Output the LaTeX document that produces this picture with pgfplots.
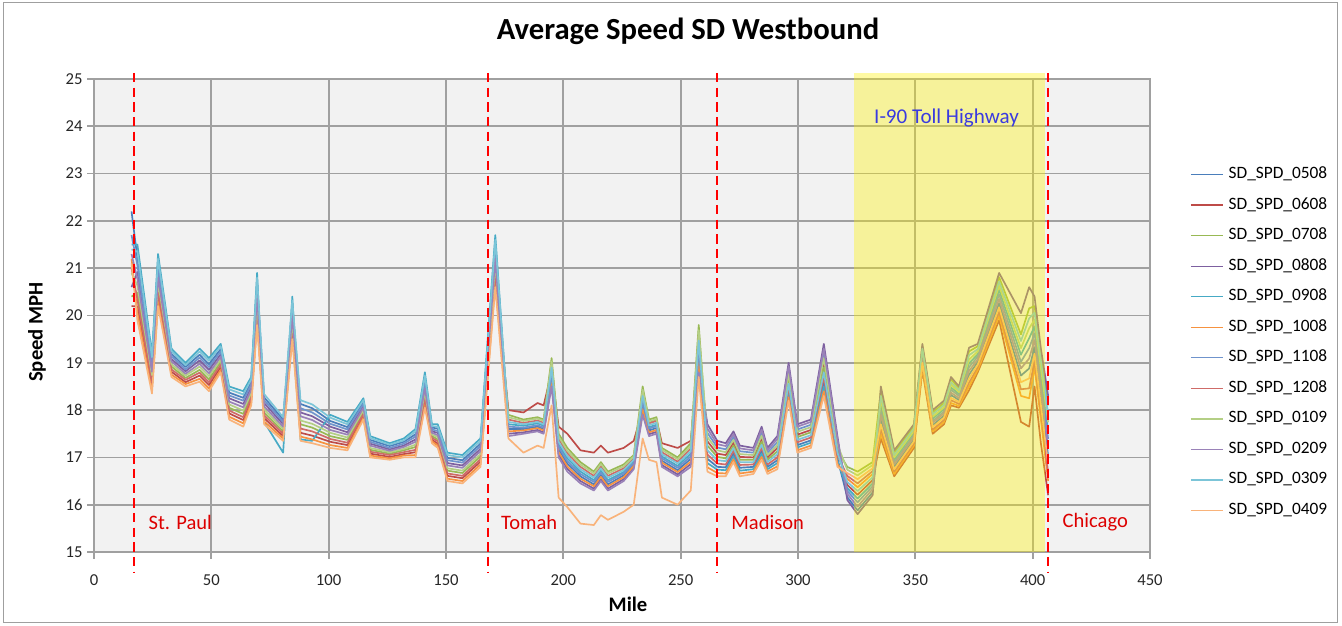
\documentclass[border=0pt]{standalone}
\usepackage{fontspec}
\setmainfont{Carlito}
\usepackage{pgfplots}
\pgfplotsset{compat=1.18}
\usepackage{pgfplotstable}

\definecolor{c0508}{HTML}{4A7EBB}
\definecolor{c0608}{HTML}{BE4B48}
\definecolor{c0708}{HTML}{98B954}
\definecolor{c0808}{HTML}{7D60A0}
\definecolor{c0908}{HTML}{46AAC5}
\definecolor{c1008}{HTML}{F69240}
\definecolor{c1108}{HTML}{6F93CC}
\definecolor{c1208}{HTML}{CF6B68}
\definecolor{c0109}{HTML}{B4CF85}
\definecolor{c0209}{HTML}{9A82B8}
\definecolor{c0309}{HTML}{7CC5D8}
\definecolor{c0409}{HTML}{F9B37A}
\definecolor{gridgray}{HTML}{A0A0A0}
\definecolor{plotbg}{HTML}{F2F2F2}
\definecolor{cityred}{HTML}{DD0000}
\definecolor{tollblue}{HTML}{3A3AE0}

\pgfplotstableread{
x s0508 s0608 s0708 s0808 s0908 s1008 s1108 s1208 s0109 s0209 s0309 s0409
16.0 22.20 20.20 20.40 20.60 21.50 21.20 21.70 21.00 20.90 21.30 21.40 21.10
18.5 21.21 20.19 20.48 20.92 21.50 20.05 21.06 20.34 20.63 20.77 21.35 19.90
24.7 19.05 18.50 18.66 18.89 19.20 18.43 18.97 18.58 18.74 18.81 19.12 18.35
27.3 21.10 20.40 20.60 20.90 21.30 20.30 21.00 20.50 20.70 20.80 21.20 20.20
33.0 19.19 18.81 18.92 19.08 19.30 18.75 19.14 18.86 18.97 19.03 19.25 18.70
39.0 18.91 18.59 18.68 18.82 19.00 18.55 18.86 18.64 18.73 18.77 18.95 18.50
45.0 19.17 18.73 18.85 19.05 19.30 18.66 19.11 18.79 18.92 18.98 19.24 18.60
49.0 18.97 18.53 18.65 18.85 19.10 18.46 18.91 18.59 18.72 18.78 19.04 18.40
54.0 19.29 18.91 19.02 19.18 19.40 18.85 19.24 18.96 19.07 19.13 19.35 18.80
57.6 18.37 17.93 18.05 18.25 18.50 17.86 18.31 17.99 18.12 18.18 18.44 17.80
63.6 18.26 17.79 17.92 18.13 18.40 17.72 18.20 17.85 17.99 18.06 18.33 17.65
67.0 18.59 18.21 18.32 18.48 18.70 18.15 18.54 18.26 18.37 18.43 18.65 18.10
69.5 20.70 20.00 20.20 20.50 20.90 19.90 20.60 20.10 20.30 20.40 20.80 19.80
72.5 18.27 17.83 17.95 18.15 17.75 17.76 18.21 17.89 18.02 18.08 18.34 17.70
80.6 17.80 17.45 17.55 17.70 17.10 17.40 17.75 17.50 17.60 17.65 17.85 17.35
84.5 20.24 19.66 19.83 20.07 20.40 19.58 20.15 19.75 19.91 19.99 20.32 19.50
88.0 18.13 17.52 17.70 17.95 17.38 17.44 18.04 17.61 17.78 17.87 18.21 17.35
93.0 18.04 17.46 17.63 17.87 17.35 17.38 17.95 17.55 17.71 17.79 18.12 17.30
100.7 17.77 17.33 17.45 17.65 17.90 17.26 17.71 17.39 17.52 17.58 17.84 17.20
108.0 17.64 17.26 17.37 17.53 17.75 17.20 17.59 17.31 17.42 17.48 17.70 17.15
114.8 18.17 17.88 17.96 18.09 18.25 17.84 18.13 17.92 18.00 18.05 18.21 17.80
117.7 17.37 17.08 17.16 17.29 17.45 17.04 17.33 17.12 17.20 17.25 17.41 17.00
126.0 17.24 17.01 17.08 17.17 17.30 16.98 17.20 17.05 17.11 17.14 17.27 16.95
132.0 17.33 17.07 17.15 17.25 17.40 17.04 17.29 17.11 17.18 17.22 17.36 17.00
137.0 17.49 17.11 17.22 17.38 17.60 17.05 17.44 17.16 17.27 17.33 17.55 17.00
141.0 18.66 18.19 18.32 18.53 18.80 18.12 18.60 18.25 18.39 18.46 18.73 18.05
144.0 17.63 17.37 17.45 17.55 17.70 17.34 17.59 17.41 17.48 17.52 17.66 17.30
146.5 17.61 17.29 17.38 17.52 17.70 17.25 17.56 17.34 17.43 17.47 17.65 17.20
150.6 16.99 16.61 16.72 16.88 17.10 16.55 16.94 16.66 16.77 16.83 17.05 16.50
157.0 16.94 16.56 16.67 16.83 17.05 16.50 16.89 16.61 16.72 16.78 17.00 16.45
164.7 17.29 16.91 17.02 17.18 17.40 16.85 17.24 16.96 17.07 17.13 17.35 16.80
171.0 21.50 20.80 21.00 21.30 21.70 20.70 21.40 20.90 21.10 21.20 21.60 20.60
176.6 17.60 18.00 17.90 17.50 17.70 17.55 17.65 17.80 17.85 17.45 17.75 17.40
183.0 17.60 17.95 17.80 17.53 17.67 17.57 17.63 17.73 17.77 17.50 17.70 17.10
189.0 17.65 18.15 17.85 17.58 17.72 17.62 17.68 17.78 17.82 17.55 17.75 17.25
191.6 17.60 18.10 17.80 17.53 17.67 17.57 17.63 17.73 17.77 17.50 17.70 17.20
195.0 18.70 18.80 19.10 18.57 18.83 18.63 18.77 18.97 19.03 18.50 18.90 18.10
198.0 17.17 17.65 17.50 17.06 17.28 17.11 17.22 17.39 17.44 17.00 17.33 16.15
201.7 16.87 17.50 17.20 16.76 16.98 16.81 16.92 17.09 17.14 16.70 17.03 15.95
207.3 16.60 17.15 16.90 16.50 16.70 16.55 16.65 16.80 16.85 16.45 16.75 15.60
213.0 16.43 17.10 16.70 16.34 16.52 16.39 16.48 16.61 16.66 16.30 16.57 15.57
216.0 16.63 17.25 16.90 16.54 16.72 16.59 16.68 16.81 16.86 16.50 16.77 15.78
219.0 16.43 17.10 16.70 16.34 16.52 16.39 16.48 16.61 16.66 16.30 16.57 15.68
225.7 16.62 17.20 16.85 16.54 16.69 16.58 16.66 16.77 16.81 16.50 16.73 15.85
230.0 16.85 17.35 17.05 16.78 16.92 16.82 16.88 16.98 17.02 16.75 16.95 16.00
233.8 18.10 18.00 18.50 17.97 18.23 18.03 18.17 18.37 18.43 17.90 18.30 17.40
236.5 17.57 17.75 17.80 17.49 17.64 17.53 17.61 17.72 17.76 17.45 17.68 16.95
239.7 17.62 17.80 17.85 17.54 17.69 17.58 17.66 17.77 17.81 17.50 17.73 16.90
242.0 16.93 17.30 17.20 16.84 17.02 16.89 16.98 17.11 17.16 16.80 17.07 16.15
248.7 16.73 17.20 17.00 16.64 16.82 16.69 16.78 16.91 16.96 16.60 16.87 16.00
254.3 16.97 17.35 17.30 16.86 17.08 16.91 17.02 17.19 17.24 16.80 17.13 16.30
257.7 19.13 19.00 19.80 18.91 19.36 19.02 19.24 19.58 19.69 18.80 19.47 18.70
261.4 16.97 17.34 17.25 17.70 16.88 16.79 17.52 17.06 17.43 17.61 17.15 16.70
265.6 16.80 17.08 17.01 17.35 16.74 16.67 17.21 16.87 17.15 17.28 16.94 16.60
269.2 16.79 17.05 16.98 17.30 16.73 16.66 17.17 16.85 17.11 17.24 16.92 16.60
272.5 17.08 17.31 17.25 17.55 17.02 16.96 17.43 17.14 17.37 17.49 17.20 16.90
275.2 16.78 17.01 16.95 17.25 16.72 16.66 17.13 16.84 17.07 17.19 16.90 16.60
281.0 16.80 17.00 16.95 17.20 16.75 16.70 17.10 16.85 17.05 17.15 16.90 16.65
284.5 17.14 17.40 17.33 17.65 17.08 17.01 17.52 17.20 17.46 17.59 17.27 16.95
287.0 16.80 17.00 16.95 17.20 16.75 16.70 17.10 16.85 17.05 17.15 16.90 16.65
291.2 16.94 17.20 17.13 17.45 16.88 16.81 17.32 17.00 17.26 17.39 17.07 16.75
296.0 18.42 18.71 18.64 19.00 18.35 18.27 18.85 18.49 18.78 18.93 18.56 18.20
299.7 17.26 17.48 17.43 17.70 17.21 17.15 17.59 17.32 17.54 17.65 17.37 17.10
305.5 17.36 17.58 17.53 17.80 17.31 17.25 17.69 17.42 17.64 17.75 17.47 17.20
311.0 18.60 19.00 18.90 19.40 18.50 18.40 19.20 18.70 19.10 19.30 18.80 18.30
316.8 16.98 17.21 17.15 17.45 16.92 16.86 17.33 17.04 17.27 17.39 17.10 16.80
321.0 16.16 16.42 16.80 16.10 16.35 16.55 16.29 16.61 16.74 16.23 16.48 16.67
325.4 15.88 16.21 16.70 15.80 16.13 16.37 16.05 16.45 16.62 15.96 16.29 16.54
331.8 16.26 16.52 16.90 16.20 16.45 16.65 16.39 16.71 16.84 16.33 16.58 16.77
335.3 17.80 17.40 18.40 18.50 18.10 17.50 18.00 17.60 18.20 17.90 18.30 17.70
341.0 16.80 16.60 17.10 17.15 16.95 16.65 16.90 16.70 17.00 16.85 17.05 16.75
349.4 17.38 17.20 17.65 17.70 17.52 17.25 17.47 17.29 17.56 17.43 17.61 17.34
353.0 19.05 18.85 19.35 19.40 19.20 18.90 19.15 18.95 19.25 19.10 19.30 19.00
357.4 17.68 17.50 17.95 18.00 17.82 17.55 17.77 17.59 17.86 17.73 17.91 17.64
362.2 17.88 17.70 18.15 18.20 18.02 17.75 17.97 17.79 18.06 17.93 18.11 17.84
365.2 18.32 18.10 18.65 18.70 18.48 18.15 18.43 18.21 18.54 18.37 18.59 18.26
368.6 18.21 18.05 18.46 18.50 18.34 18.09 18.30 18.13 18.38 18.25 18.42 18.17
372.9 18.75 18.42 19.24 19.32 18.99 18.50 18.91 18.58 19.07 18.83 19.16 18.67
376.6 19.02 18.80 19.35 19.40 19.18 18.85 19.13 18.91 19.24 19.07 19.29 18.96
385.7 20.26 19.90 20.81 20.90 20.54 19.99 20.45 20.08 20.63 20.35 20.72 20.17
395.0 18.73 17.75 19.60 20.05 19.17 18.30 19.02 18.44 19.31 18.88 19.46 18.59
398.5 18.88 17.65 20.15 20.60 19.52 18.25 19.31 18.46 19.73 19.09 19.94 18.67
400.8 19.33 18.50 20.20 20.40 19.77 18.90 19.62 19.04 19.91 19.48 20.06 19.19
403.5 18.27 17.30 19.20 19.30 18.73 17.80 18.58 17.96 18.89 18.42 19.04 18.11
406.6 17.03 16.20 18.10 18.30 17.57 16.50 17.39 16.68 17.74 17.21 17.92 16.86
}\speeds

\begin{document}
\begin{tikzpicture}
\begin{axis}[
    scale only axis,
    width=792pt, height=354.75pt,
    xmin=0, xmax=450, ymin=15, ymax=25,
    xtick={0,50,...,450}, ytick={15,16,...,25},
    grid=major,
    major grid style={gridgray, line width=1.3pt},
    axis line style={gridgray, line width=1.3pt},
    tick style={gridgray, line width=1.3pt},
    major tick length=5pt,
    tick align=outside, tick pos=left,
    axis background/.style={fill=plotbg},
    clip=false,
    /pgf/number format/assume math mode=true,
    every tick label/.append style={font=\fontsize{12.5}{15}\selectfont, text=black!85},
    xticklabel style={yshift=-8.5pt},
    title={Average Speed SD Westbound},
    title style={font=\bfseries\fontsize{23}{27}\selectfont, at={(axis description cs:0.5625,1.0846)}, anchor=center},
    xlabel={Mile}, ylabel={Speed MPH},
    label style={font=\bfseries\fontsize{15.5}{18}\selectfont},
    xlabel style={at={(axis description cs:0.5057,-0.110)}, anchor=center},
    ylabel style={at={(axis description cs:-0.054,0.465)}, anchor=center},
    legend style={at={(axis description cs:1.0379,0.4429)}, anchor=west, draw=none, fill=none,
        font=\fontsize{13}{15}\selectfont, row sep=10.9pt, column sep=3.75pt, inner sep=0pt,
        nodes={inner sep=0pt, text height=9pt, text depth=3pt}},
    legend cell align=left,
    legend image code/.code={\draw[#1, line width=1pt] (0pt,0pt) -- (24pt,0pt);},
    every axis plot/.append style={line width=1.25pt, line join=round},
]
\addplot[c0508] table[x=x, y=s0508] {\speeds};
\addplot[c0608] table[x=x, y=s0608] {\speeds};
\addplot[c0708] table[x=x, y=s0708] {\speeds};
\addplot[c0808] table[x=x, y=s0808] {\speeds};
\addplot[c0908] table[x=x, y=s0908] {\speeds};
\addplot[c1008] table[x=x, y=s1008] {\speeds};
\addplot[c1108] table[x=x, y=s1108] {\speeds};
\addplot[c1208] table[x=x, y=s1208] {\speeds};
\addplot[c0109] table[x=x, y=s0109] {\speeds};
\addplot[c0209] table[x=x, y=s0209] {\speeds};
\addplot[c0309] table[x=x, y=s0309] {\speeds};
\addplot[c0409] table[x=x, y=s0409] {\speeds};
\legend{SD\_SPD\_0508, SD\_SPD\_0608, SD\_SPD\_0708, SD\_SPD\_0808, SD\_SPD\_0908, SD\_SPD\_1008,
        SD\_SPD\_1108, SD\_SPD\_1208, SD\_SPD\_0109, SD\_SPD\_0209, SD\_SPD\_0309, SD\_SPD\_0409}

% toll highway band, laid over the lines
\fill[yellow, fill opacity=0.36] (axis cs:323.8,25.13) rectangle (axis cs:405.4,15);

% city boundaries
\draw[red, line width=1.5pt, dash pattern=on 7pt off 4pt] (axis cs:17.1,25.13) -- (axis cs:17.1,14.56);
\draw[red, line width=1.5pt, dash pattern=on 7pt off 4pt] (axis cs:168,25.13) -- (axis cs:168,14.56);
\draw[red, line width=1.5pt, dash pattern=on 7pt off 4pt] (axis cs:265.4,25.13) -- (axis cs:265.4,14.56);
\draw[red, line width=1.5pt, dash pattern=on 7pt off 4pt] (axis cs:406.6,25.13) -- (axis cs:406.6,14.56);
\node[anchor=west, text=cityred, font=\fontsize{15.4}{18}\selectfont] at (axis cs:21.3,15.63) {St. Paul};
\node[anchor=west, text=cityred, font=\fontsize{15.4}{18}\selectfont] at (axis cs:171.5,15.63) {Tomah};
\node[anchor=west, text=cityred, font=\fontsize{15.4}{18}\selectfont] at (axis cs:269.6,15.63) {Madison};
\node[anchor=west, text=cityred, font=\fontsize{15.4}{18}\selectfont] at (axis cs:410.8,15.63) {Chicago};
\node[text=tollblue, font=\fontsize{15.8}{19}\selectfont] at (axis cs:363.3,24.17) {I-90 Toll Highway};
\end{axis}
\draw[gray!75, line width=0.75pt] (-67.5pt,-52.5pt) rectangle (932.25pt,411.75pt);
\pgfresetboundingbox
\useasboundingbox (-70.5pt,-54.75pt) rectangle (936pt,414pt);
\end{tikzpicture}
\end{document}
